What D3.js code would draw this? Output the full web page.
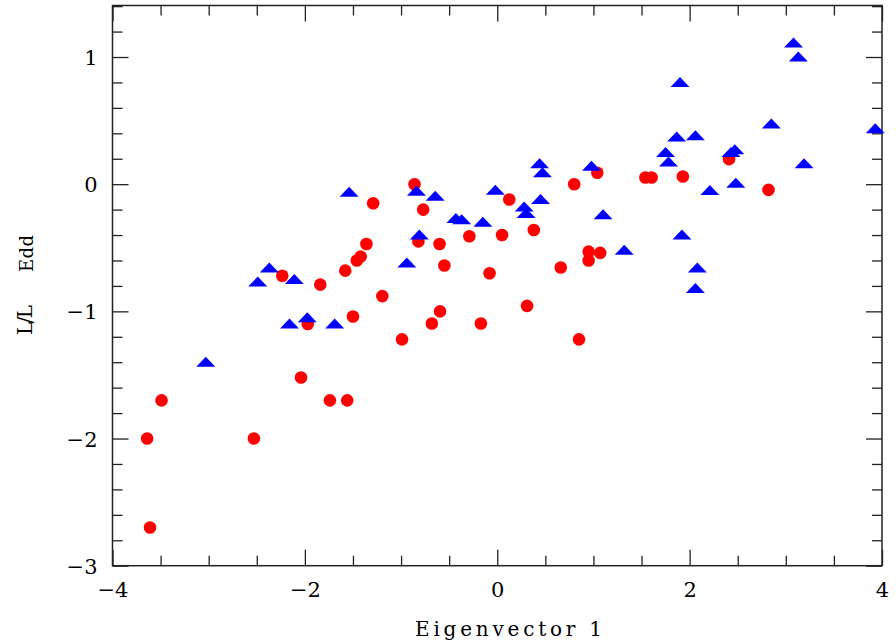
<!DOCTYPE html>
<html>
<head>
<meta charset="utf-8">
<script src="https://cdn.jsdelivr.net/npm/d3@7"></script>
<style>
    body { margin: 0; background: #fff; }
    svg text { font-family: "DejaVu Serif", serif; fill: #000; }
</style>
</head>
<body>
<div id="figure"></div>
<script>
// red circles
var redPoints = [
    [-3.64, -2.0], [-3.61, -2.70], [-3.49, -1.70], [-2.53, -2.0], [-2.235, -0.72],
    [-2.04, -1.52], [-1.97, -1.10], [-1.84, -0.79], [-1.74, -1.70], [-1.58, -0.68],
    [-1.56, -1.70], [-1.50, -1.04], [-1.46, -0.60], [-1.42, -0.57], [-1.36, -0.47],
    [-1.29, -0.15], [-1.195, -0.88], [-0.99, -1.22], [-0.86, 0.0], [-0.82, -0.45],
    [-0.77, -0.20], [-0.68, -1.095], [-0.60, -0.47], [-0.595, -1.0], [-0.55, -0.64],
    [-0.29, -0.41], [-0.17, -1.095], [-0.08, -0.70], [0.05, -0.40], [0.125, -0.12],
    [0.31, -0.957], [0.38, -0.36], [0.66, -0.655], [0.80, 0.0], [0.85, -1.22],
    [0.95, -0.53], [0.95, -0.60], [1.04, 0.09], [1.07, -0.54], [1.54, 0.053],
    [1.605, 0.053], [1.93, 0.06], [2.41, 0.197], [2.82, -0.045]
];

// blue triangles
var bluePoints = [
    [-3.03, -1.40], [-2.49, -0.77], [-2.37, -0.66], [-2.16, -1.10], [-2.11, -0.75],
    [-1.975, -1.05], [-1.69, -1.10], [-1.54, -0.063], [-0.94, -0.62], [-0.84, -0.055],
    [-0.81, -0.40], [-0.645, -0.095], [-0.43, -0.27], [-0.37, -0.28], [-0.15, -0.30],
    [-0.02, -0.047], [0.28, -0.18], [0.30, -0.23], [0.44, 0.16], [0.45, -0.12],
    [0.47, 0.09], [0.98, 0.14], [1.10, -0.24], [1.32, -0.52], [1.75, 0.25],
    [1.78, 0.175], [1.865, 0.37], [1.90, 0.80], [1.92, -0.40], [2.06, 0.38],
    [2.06, -0.82], [2.08, -0.66], [2.21, -0.05], [2.43, 0.25], [2.47, 0.27],
    [2.48, 0.008], [2.85, 0.474], [3.08, 1.11], [3.13, 1.00], [3.19, 0.16],
    [3.93, 0.435]
];

var xMajor = [-4, -2, 0, 2, 4];
var xMinor = [-3.5, -3, -2.5, -1.5, -1, -0.5, 0.5, 1, 1.5, 2.5, 3, 3.5];
var yMajor = [-3, -2, -1, 0, 1];
var yMinor = [-2.8, -2.6, -2.4, -2.2, -1.8, -1.6, -1.4, -1.2, -0.8, -0.6, -0.4, -0.2,
    0.2, 0.4, 0.6, 0.8, 1.2, 1.4];

var plotLeft = 112.5, plotRight = 882, plotTop = 5.5, plotBottom = 565.7;

var svg = d3.select("#figure")
    .append("svg")
    .attr("width", 896)
    .attr("height", 644);

var x = d3.scaleLinear()
    .domain([-4, 4])
    .range([plotLeft, plotRight]);
var y = d3.scaleLinear()
    .domain([-3, 1.405])
    .range([plotBottom, plotTop]);

function fmt(d) {
    return d < 0 ? "\u2212" + Math.abs(d) : String(d);
}

function tidy(g) {
    g.select(".domain").remove();
    g.selectAll(".tick line").attr("stroke", "#222").attr("stroke-width", 1.3);
}

// ticks, pointing inward on all four sides
svg.append("g").attr("transform", `translate(0,${plotBottom})`)
    .call(d3.axisBottom(x).tickValues(xMinor).tickSize(-10).tickFormat(""))
    .call(tidy);
svg.append("g").attr("transform", `translate(0,${plotBottom})`)
    .call(d3.axisBottom(x).tickValues(xMajor).tickSize(-16).tickPadding(0).tickFormat(fmt))
    .call(tidy)
    .selectAll("text")
    .attr("y", 31)
    .attr("dy", 0)
    .style("font-size", "21px")
    .style("font-family", "DejaVu Serif, serif")
    .attr("fill", "#000");

svg.append("g").attr("transform", `translate(0,${plotTop})`)
    .call(d3.axisTop(x).tickValues(xMinor).tickSize(-10).tickFormat(""))
    .call(tidy);
svg.append("g").attr("transform", `translate(0,${plotTop})`)
    .call(d3.axisTop(x).tickValues(xMajor).tickSize(-16).tickFormat(""))
    .call(tidy);

svg.append("g").attr("transform", `translate(${plotLeft},0)`)
    .call(d3.axisLeft(y).tickValues(yMinor).tickSize(-10).tickFormat(""))
    .call(tidy);
svg.append("g").attr("transform", `translate(${plotLeft},0)`)
    .call(d3.axisLeft(y).tickValues(yMajor).tickSize(-16).tickFormat(fmt))
    .call(tidy)
    .selectAll("text")
    .attr("x", -15)
    .attr("dy", "0.36em")
    .style("font-size", "21px")
    .style("font-family", "DejaVu Serif, serif")
    .attr("fill", "#000");

svg.append("g").attr("transform", `translate(${plotRight},0)`)
    .call(d3.axisRight(y).tickValues(yMinor).tickSize(-10).tickFormat(""))
    .call(tidy);
svg.append("g").attr("transform", `translate(${plotRight},0)`)
    .call(d3.axisRight(y).tickValues(yMajor).tickSize(-16).tickFormat(""))
    .call(tidy);

// frame
svg.append("rect")
    .attr("x", plotLeft)
    .attr("y", plotTop)
    .attr("width", plotRight - plotLeft)
    .attr("height", plotBottom - plotTop)
    .attr("fill", "none")
    .attr("stroke", "#222")
    .attr("stroke-width", 1.5);

// points
svg.append("g")
    .selectAll("circle")
    .data(redPoints)
    .join("circle")
    .attr("cx", d => x(d[0]))
    .attr("cy", d => y(d[1]))
    .attr("r", 6.3)
    .attr("fill", "#ff0000");

var tri = "M0,-5.5L9.5,4.5L-9.5,4.5Z";
svg.append("g")
    .selectAll("path")
    .data(bluePoints)
    .join("path")
    .attr("d", tri)
    .attr("transform", d => `translate(${x(d[0])},${y(d[1])})`)
    .attr("fill", "#0000ff");

// axis titles
svg.append("text")
    .attr("x", 508.5)
    .attr("y", 636)
    .attr("text-anchor", "middle")
    .attr("textLength", 187)
    .attr("lengthAdjust", "spacing")
    .style("font-size", "20px")
    .text("Eigenvector 1");

svg.append("text")
    .attr("transform", "translate(32,320) rotate(-90)")
    .attr("text-anchor", "middle")
    .attr("textLength", 30)
    .attr("lengthAdjust", "spacing")
    .style("font-size", "20px")
    .text("L/L");

svg.append("text")
    .attr("transform", "translate(33,253.5) rotate(-90)")
    .attr("text-anchor", "middle")
    .attr("textLength", 37)
    .attr("lengthAdjust", "spacing")
    .style("font-size", "18px")
    .text("Edd");
</script>
</body>
</html>
